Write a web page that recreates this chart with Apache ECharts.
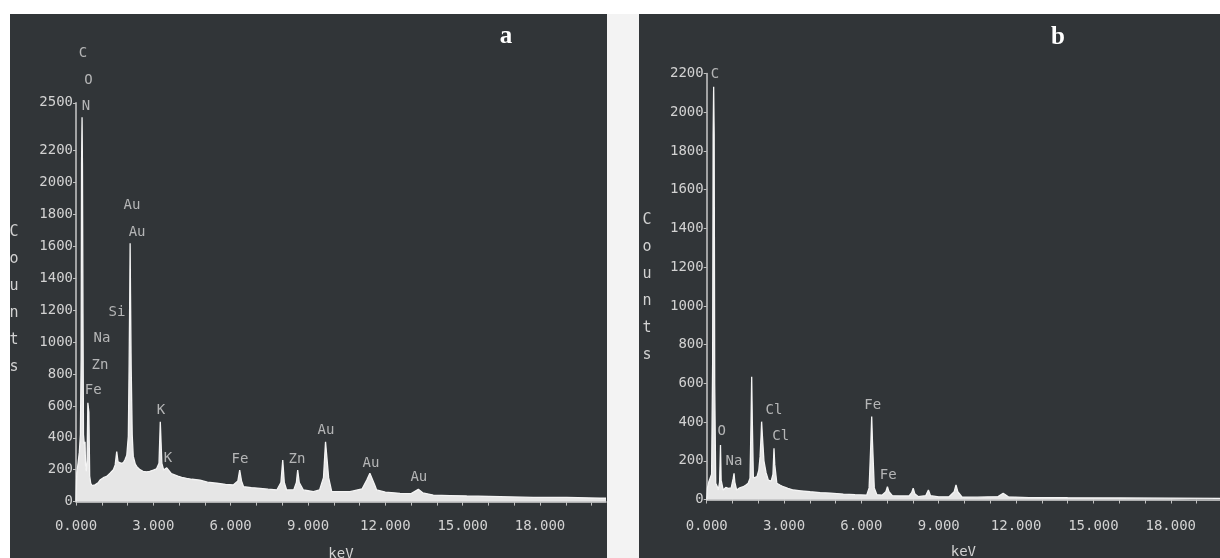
<!DOCTYPE html>
<html>
<head>
<meta charset="utf-8">
<script src="https://cdn.jsdelivr.net/npm/echarts@6/dist/echarts.min.js"></script>
<style>
  html, body { margin: 0; padding: 0; background: #ffffff; }
  #chart { width: 1220px; height: 558px; }
</style>
</head>
<body>
<div id="chart"></div>
<script>
// EDS spectrum a: energy (keV) and counts
const keVA = [0.00, 0.03, 0.08, 0.13, 0.17, 0.20, 0.215, 0.235, 0.25, 0.27, 0.29, 0.32, 0.35, 0.37, 0.40, 0.43, 0.46, 0.48, 0.50, 0.53,
  0.57, 0.62, 0.67, 0.74, 0.80, 0.87, 0.93, 1.00, 1.06, 1.12, 1.19, 1.25, 1.32, 1.38, 1.45, 1.52, 1.58, 1.63, 1.70, 1.76,
  1.84, 1.90, 1.97, 2.03, 2.06, 2.085, 2.10, 2.115, 2.14, 2.18, 2.22, 2.30, 2.36, 2.48, 2.60, 2.74, 2.86, 3.00, 3.12, 3.22,
  3.27, 3.30, 3.33, 3.40, 3.52, 3.58, 3.70, 3.77, 3.95, 4.10, 4.29, 4.50, 4.81, 5.10, 5.46, 5.80, 6.10, 6.28, 6.35, 6.42,
  6.50, 6.80, 7.14, 7.45, 7.79, 7.95, 8.02, 8.08, 8.17, 8.45, 8.55, 8.60, 8.66, 8.82, 9.00, 9.21, 9.45, 9.60, 9.68, 9.72,
  9.80, 9.92, 10.30, 10.63, 11.10, 11.28, 11.40, 11.47, 11.60, 11.66, 12.00, 12.57, 13.00, 13.28, 13.45, 13.86, 14.50, 15.16, 16.45, 17.73,
  19.03, 20.33, 20.56];
const countsA = [0, 180, 240, 310, 420, 900, 2120, 2410, 2120, 1200, 420, 360, 375, 230, 190, 260, 620, 626, 560, 160,
  115, 100, 93, 105, 115, 120, 135, 140, 150, 152, 158, 170, 178, 190, 200, 230, 313, 250, 245, 240,
  245, 262, 290, 410, 846, 1300, 1620, 1300, 846, 420, 285, 235, 219, 200, 190, 187, 190, 198, 205, 240,
  501, 501, 240, 198, 212, 205, 175, 167, 160, 152, 146, 140, 135, 122, 115, 108, 104, 130, 198, 130,
  93, 88, 83, 78, 73, 120, 261, 120, 73, 75, 120, 198, 120, 73, 68, 62, 73, 150, 375, 375,
  150, 62, 62, 62, 80, 135, 177, 175, 100, 73, 60, 52, 50, 77, 55, 41, 38, 35, 31, 27,
  27, 21, 21];

// EDS spectrum b: energy (keV) and counts
const keVB = [0.00, 0.03, 0.08, 0.13, 0.19, 0.23, 0.25, 0.27, 0.29, 0.31, 0.35, 0.40, 0.45, 0.50, 0.535, 0.56, 0.64, 0.74, 0.84, 0.95,
  1.03, 1.06, 1.09, 1.16, 1.28, 1.42, 1.52, 1.61, 1.68, 1.72, 1.745, 1.77, 1.81, 1.87, 1.95, 2.02, 2.07, 2.11, 2.13, 2.16,
  2.22, 2.30, 2.39, 2.50, 2.57, 2.61, 2.64, 2.72, 2.84, 2.97, 3.15, 3.36, 3.65, 4.01, 4.40, 4.80, 5.30, 5.75, 6.21, 6.30,
  6.37, 6.40, 6.43, 6.50, 6.60, 6.80, 6.95, 7.01, 7.07, 7.20, 7.50, 7.85, 7.95, 8.01, 8.07, 8.20, 8.50, 8.60, 8.68, 9.00,
  9.40, 9.60, 9.67, 9.74, 9.90, 10.50, 11.30, 11.50, 11.70, 12.50, 14.00, 16.00, 18.00, 19.91];
const countsB = [0, 60, 90, 100, 130, 700, 1883, 2132, 1883, 600, 84, 70, 49, 90, 282, 100, 49, 62, 58, 60,
  110, 135, 90, 49, 60, 66, 75, 84, 110, 400, 634, 400, 110, 100, 118, 150, 220, 330, 402, 330,
  200, 140, 100, 95, 130, 264, 180, 84, 75, 66, 58, 49, 45, 40, 36, 33, 28, 25, 23, 60,
  300, 428, 300, 60, 25, 22, 40, 66, 40, 20, 18, 18, 35, 58, 30, 15, 20, 49, 20, 14,
  14, 40, 75, 40, 13, 12, 15, 32, 14, 10, 9, 8, 7, 6];

// Element labels (text, keV, counts at label centre)
const peakNamesA = ['C', 'O', 'N', 'Au', 'Au', 'Si', 'Na', 'Zn', 'Fe', 'K', 'K', 'Fe', 'Zn', 'Au', 'Au', 'Au'];
const peakKeVA   = [0.27, 0.48, 0.39, 2.17, 2.37, 1.59, 1.01, 0.93, 0.67, 3.30, 3.57, 6.36, 8.57, 9.70, 11.44, 13.30];
const peakCountsA = [2812, 2643, 2476, 1859, 1690, 1189, 1025, 856, 695, 574, 274, 263, 263, 449, 242, 149];

const peakNamesB = ['C', 'O', 'Na', 'Cl', 'Cl', 'Fe', 'Fe'];
const peakKeVB   = [0.32, 0.58, 1.06, 2.61, 2.87, 6.44, 7.04];
const peakCountsB = [2193, 350, 195, 462, 324, 488, 127];

// Axis ticks and labels
const yTicksA = [0, 200, 400, 600, 800, 1000, 1200, 1400, 1600, 1800, 2000, 2200, 2500];
const yTicksB = [0, 200, 400, 600, 800, 1000, 1200, 1400, 1600, 1800, 2000, 2200];
const xTicksA = [0, 1, 2, 3, 4, 5, 6, 7, 8, 9, 10, 11, 12, 13, 14, 15, 16, 17, 18, 19, 20];
const xTicksB = [0, 1, 2, 3, 4, 5, 6, 7, 8, 9, 10, 11, 12, 13, 14, 15, 16, 17, 18, 19];
const xLabelValues = [0, 3, 6, 9, 12, 15, 18];

const MONO = 'DejaVu Sans Mono';
const TXT = '#d2d2d2';
const PANEL = '#313538';

const pairs = (xs, ys) => xs.map((x, i) => [x, ys[i]]);
const peakData = (names, xs, ys) => names.map((n, i) => ({ name: n, value: [xs[i], ys[i]] }));

function xAxisDef(gridIndex, max, ticks, labelMargin) {
  return {
    type: 'value', gridIndex, min: 0, max,
    name: 'keV', nameLocation: 'middle', nameGap: 46,
    nameTextStyle: { color: TXT, fontFamily: MONO, fontSize: 14 },
    axisLine: { show: true, lineStyle: { color: '#d8d8d8', width: 1.5 } },
    axisTick: { show: true, customValues: ticks, length: 4, lineStyle: { color: '#c0c0c0', width: 1 } },
    axisLabel: { customValues: xLabelValues, formatter: v => Number(v).toFixed(3), color: TXT, fontFamily: MONO, fontSize: 14, margin: labelMargin },
    splitLine: { show: false }
  };
}
function yAxisDef(gridIndex, max, ticks) {
  return {
    type: 'value', gridIndex, min: 0, max,
    axisLine: { show: true, lineStyle: { color: '#c8c8c8', width: 1.5 } },
    axisTick: { show: true, customValues: ticks, length: 3, lineStyle: { color: '#c0c0c0', width: 1 } },
    axisLabel: { customValues: ticks, formatter: v => String(v), color: TXT, fontFamily: MONO, fontSize: 14, margin: 3 },
    splitLine: { show: false }
  };
}
function spectrum(idx, data) {
  return {
    type: 'line', xAxisIndex: idx, yAxisIndex: idx, data, symbol: 'none', sampling: false,
    lineStyle: { color: '#f4f4f4', width: 1.3 },
    areaStyle: { color: '#e6e6e6', opacity: 1 },
    z: 3
  };
}
function peakLabels(idx, data) {
  return {
    type: 'scatter', xAxisIndex: idx, yAxisIndex: idx, data, symbolSize: 0, clip: false, silent: true,
    label: { show: true, position: 'inside', formatter: p => p.name, color: '#d6d6d6', fontFamily: MONO, fontSize: 14 },
    z: 5
  };
}

const chart = echarts.init(document.getElementById('chart'), null, { renderer: 'canvas' });
chart.setOption({
  backgroundColor: '#ffffff',
  animation: false,
  graphic: [
    { type: 'rect', shape: { x: 607, y: 14, width: 32, height: 544 }, style: { fill: '#f3f3f3' }, z: -10 },
    { type: 'rect', shape: { x: 10, y: 14, width: 597, height: 544 }, style: { fill: PANEL }, z: -10 },
    { type: 'rect', shape: { x: 639, y: 14, width: 581, height: 544 }, style: { fill: PANEL }, z: -10 },
    { type: 'text', x: 14, y: 300, style: { text: 'C\no\nu\nn\nt\ns', fill: TXT, fontFamily: MONO, fontSize: 15, lineHeight: 27, align: 'center', verticalAlign: 'middle' }, z: 10 },
    { type: 'text', x: 647, y: 288, style: { text: 'C\no\nu\nn\nt\ns', fill: TXT, fontFamily: MONO, fontSize: 15, lineHeight: 27, align: 'center', verticalAlign: 'middle' }, z: 10 },
    { type: 'text', x: 506, y: 37, style: { text: 'a', fill: '#ffffff', fontFamily: 'Liberation Serif', fontWeight: 'bold', fontSize: 25, align: 'center', verticalAlign: 'middle' }, z: 10 },
    { type: 'text', x: 1058, y: 38, style: { text: 'b', fill: '#ffffff', fontFamily: 'Liberation Serif', fontWeight: 'bold', fontSize: 25, align: 'center', verticalAlign: 'middle' }, z: 10 }
  ],
  grid: [
    { left: 76, top: 102.8, width: 530, height: 398.8, outerBoundsMode: 'none', containLabel: false },
    { left: 706.7, top: 73.5, width: 513.3, height: 426, outerBoundsMode: 'none', containLabel: false }
  ],
  xAxis: [xAxisDef(0, 20.56, xTicksA, 18), xAxisDef(1, 19.91, xTicksB, 20)],
  yAxis: [yAxisDef(0, 2500, yTicksA), yAxisDef(1, 2200, yTicksB)],
  series: [
    spectrum(0, pairs(keVA, countsA)),
    spectrum(1, pairs(keVB, countsB)),
    peakLabels(0, peakData(peakNamesA, peakKeVA, peakCountsA)),
    peakLabels(1, peakData(peakNamesB, peakKeVB, peakCountsB))
  ]
});
</script>
</body>
</html>
